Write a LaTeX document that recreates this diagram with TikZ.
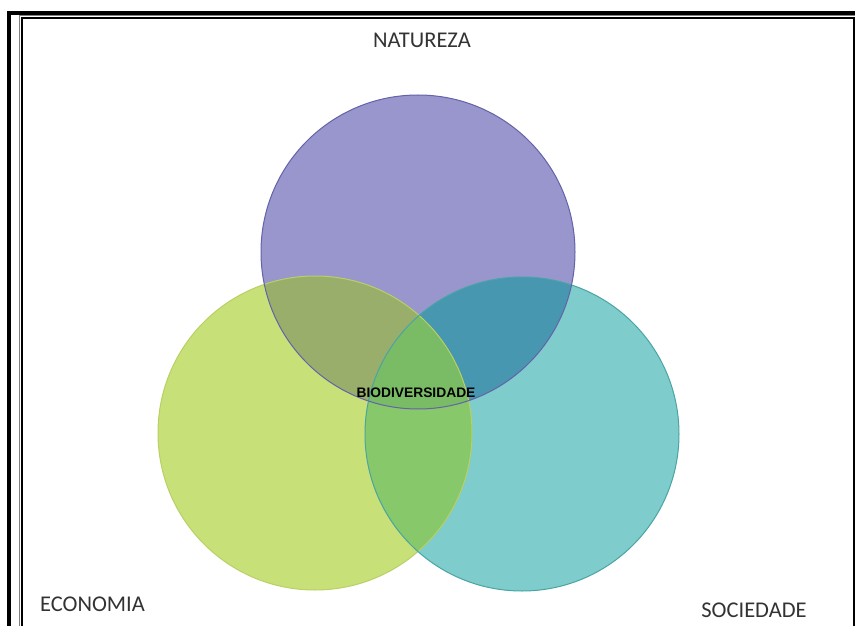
\documentclass[tikz,border=0pt]{standalone}
\usepackage{fontspec}
\setmainfont{Carlito}
\newfontfamily\bioFont{Liberation Sans}
\definecolor{purpleC}{HTML}{9896CC}
\definecolor{greenC}{HTML}{C8E078}
\definecolor{tealC}{HTML}{7ECCCC}
\definecolor{pgC}{HTML}{9AAE6B}
\definecolor{ptC}{HTML}{4797B0}
\definecolor{gtC}{HTML}{86C86A}
\definecolor{allC}{HTML}{7ABB65}
\definecolor{purpleE}{HTML}{6462A8}
\definecolor{greenE}{HTML}{B8D064}
\definecolor{tealE}{HTML}{4AA4A4}
\definecolor{labelC}{HTML}{333333}
\tikzset{
  biglabel/.style={font=\fontsize{22.5}{26}\selectfont, text=labelC, inner sep=0pt},
  centerlabel/.style={font=\bioFont\bfseries\fontsize{13.8}{15}\selectfont, text=black, inner sep=0pt},
  ring/.style={circle, minimum size=314pt, inner sep=0pt, line width=1pt},
}
\begin{document}
\begin{tikzpicture}[x=1pt,y=-1pt]
\useasboundingbox (0,0) rectangle (855,626);
\fill[white] (0,0) rectangle (855,626);
% frame
\draw[line width=4pt] (9,640) -- (9,13) -- (870,13);
\draw[line width=1.2pt, gray] (19.6,640) -- (19.6,15.9) -- (870,15.9);
\draw[line width=2.6pt] (22,640) -- (22,18) -- (854,18) -- (854,640);
% region fills
\def\cP{(418,252) circle (157)}
\def\cG{(315,433) circle (157)}
\def\cT{(522,434) circle (157)}
\fill[purpleC] \cP;
\fill[greenC] \cG;
\fill[tealC] \cT;
\begin{scope}\clip \cP; \fill[pgC] \cG; \end{scope}
\begin{scope}\clip \cP; \fill[ptC] \cT; \end{scope}
\begin{scope}\clip \cG; \fill[gtC] \cT; \end{scope}
\begin{scope}\clip \cP; \clip \cG; \fill[allC] \cT; \end{scope}
% outlines
\node[ring, draw=greenE] (economia circle) at (315,433) {};
\node[ring, draw=tealE] (sociedade circle) at (522,434) {};
\node[ring, draw=purpleE] (natureza circle) at (418,252) {};
% labels
\node[biglabel] (natureza) at (422,40.5) {NATUREZA};
\node[biglabel] (economia) at (92.5,604.5) {ECONOMIA};
\node[biglabel] (sociedade) at (754,610) {SOCIEDADE};
\node[centerlabel] (bio) at (416,393) {BIODIVERSIDADE};
\end{tikzpicture}
\end{document}
